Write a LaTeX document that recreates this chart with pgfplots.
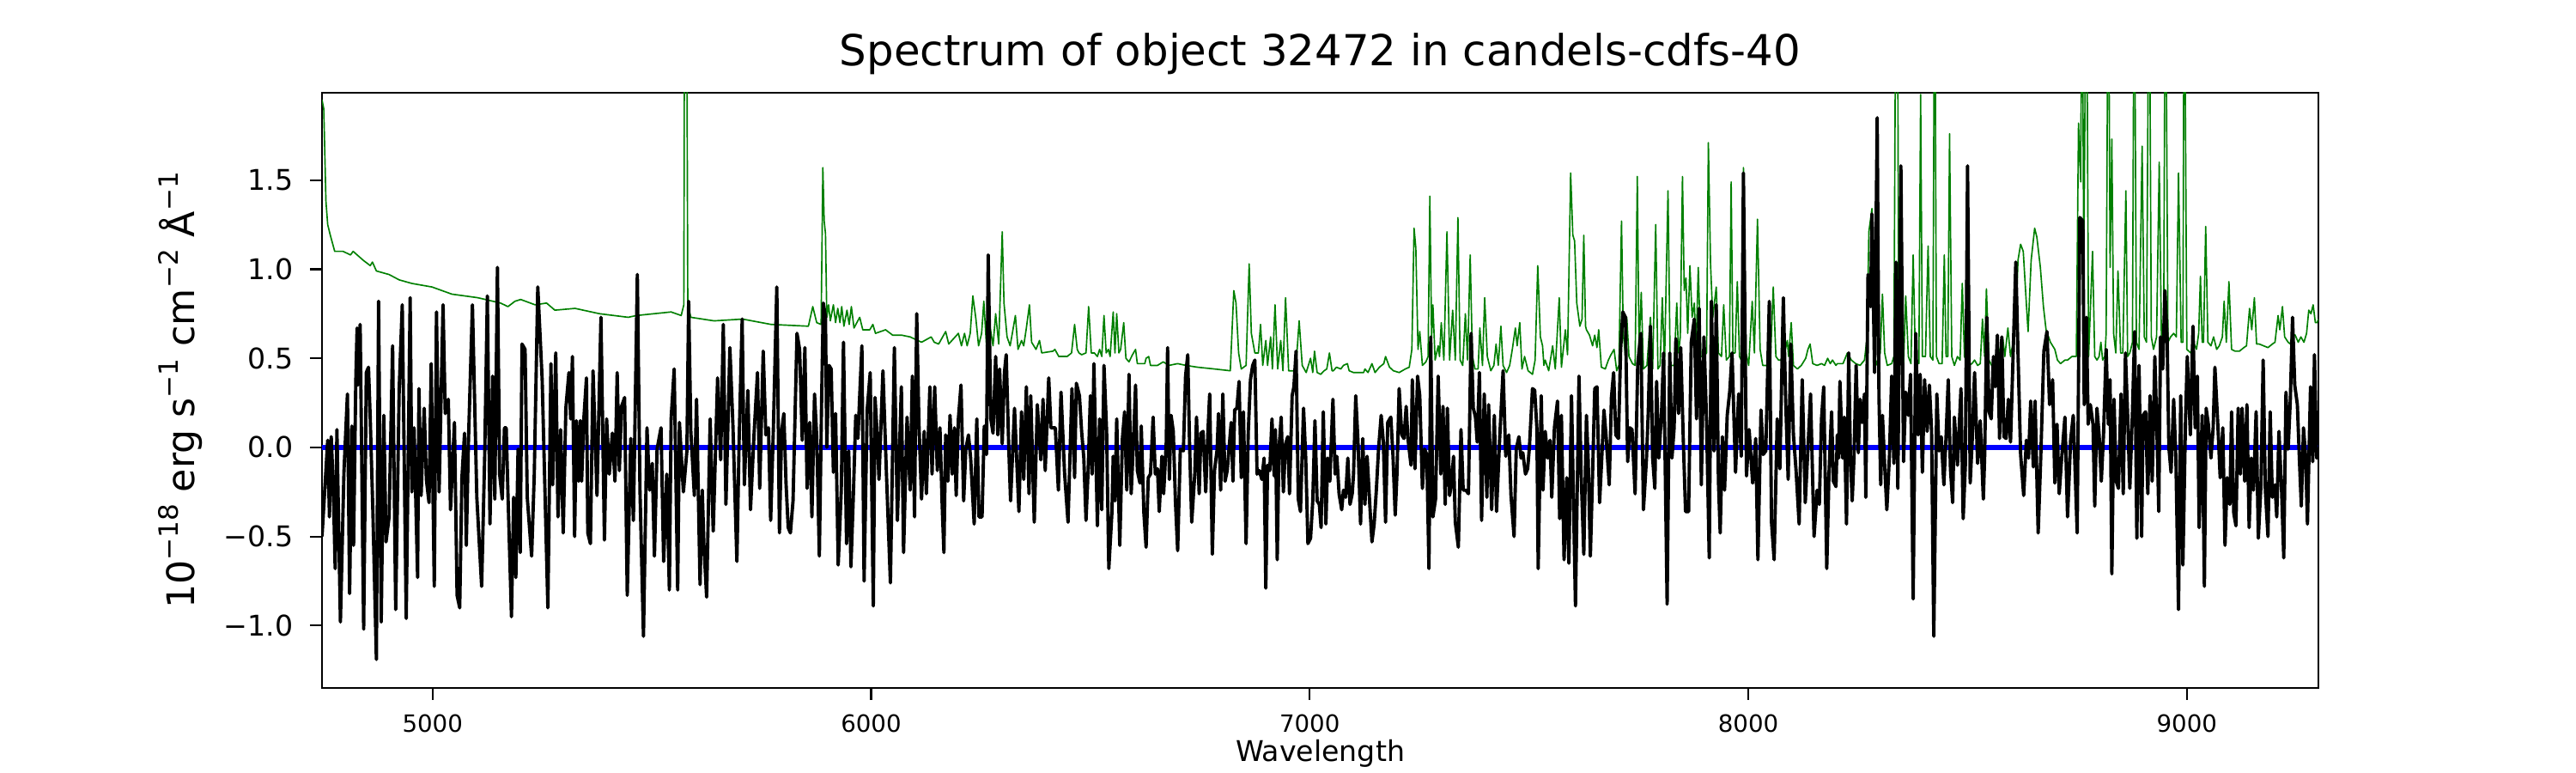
\documentclass[border=0pt]{standalone}
\usepackage{fontspec}
\setmainfont{DejaVu Sans}
\usepackage{pgfplots}
\pgfplotsset{compat=1.18}
\newcommand{\sups}[1]{\raisebox{0.42em}{\fontsize{11.2}{12}\selectfont #1}}
\begin{document}
\begin{tikzpicture}
\path[use as bounding box] (0,0) rectangle (15in,4.5in);
\begin{axis}[
  at={(1.875in,0.495in)}, anchor=south west,
  scale only axis, width=11.625in, height=3.465in,
  xmin=4748, xmax=9300, ymin=-1.35, ymax=1.99,
  axis line style={line width=0.8pt},
  tick align=outside, tick style={line width=0.8pt, black}, major tick length=5pt,
  xtick pos=left, ytick pos=left,
  xtick={5000,6000,7000,8000,9000}, xticklabels={5000,6000,7000,8000,9000},
  ytick={-1,-0.5,0,0.5,1,1.5}, yticklabels={−1.0,−0.5,0.0,0.5,1.0,1.5},
  /pgf/number format/assume math mode=true,
  xticklabel style={font=\fontsize{10}{12}\selectfont, anchor=base, inner sep=0pt, yshift=-13.5pt},
  yticklabel style={font=\fontsize{12}{14}\selectfont, anchor=east, inner sep=0pt, xshift=-6.9pt},
  title={Spectrum of object 32472 in candels-cdfs-40},
  title style={font=\fontsize{18}{20}\selectfont, at={(axis description cs:0.5,1.0217)}, anchor=base, inner sep=0pt},
  xlabel={Wavelength},
  xlabel style={font=\fontsize{12}{14}\selectfont, at={(axis description cs:0.5,-0.124)}, anchor=base, inner sep=0pt},
  ylabel={10\sups{−18} erg s\sups{−1} cm\sups{−2} Å\sups{−1}},
  ylabel style={font=\fontsize{16}{18}\selectfont, at={(axis description cs:-0.0639,0.5)}, anchor=base, inner sep=0pt},
  clip=true,
]
\addplot[color={rgb,255:red,0;green,128;blue,0}, line width=0.6pt, line join=round] coordinates {
(4748,1.95) (4752,1.90) (4757,1.38) (4761,1.25) (4767,1.19) (4777,1.10) (4796,1.10) (4813,1.08) (4819,1.10) (4842,1.05) (4858,1.02) (4863,1.04) (4872,0.99) (4901,0.97) (4924,0.94) (4953,0.92) (4999,0.90) (5044,0.86) (5103,0.84) (5155,0.81) (5172,0.79) (5188,0.82) (5201,0.83) (5234,0.80) (5260,0.81) (5279,0.77) (5325,0.78) (5381,0.75) (5446,0.73) (5465,0.74) (5544,0.76) (5567,0.74) (5573,0.80) (5575,3.0) (5579,3.0) (5582,0.80) (5589,0.73) (5642,0.71) (5707,0.72) (5772,0.69) (5857,0.68) (5867,0.79) (5876,0.70) (5886,0.69) (5890,1.57) (5893,1.27) (5896,1.20) (5899,0.73)
(5903,0.80) (5907,0.71) (5914,0.80) (5919,0.70) (5924,0.78) (5929,0.70) (5933,0.79) (5938,0.68) (5945,0.77) (5950,0.69) (5955,0.79) (5961,0.67) (5974,0.73) (5981,0.66) (5997,0.66) (6004,0.69) (6010,0.64) (6033,0.66) (6049,0.63) (6069,0.63) (6089,0.62) (6115,0.59) (6137,0.62) (6144,0.59) (6154,0.58) (6170,0.65) (6177,0.58) (6199,0.64) (6206,0.57) (6213,0.64) (6219,0.57) (6226,0.64) (6232,0.85) (6239,0.72) (6245,0.57) (6252,0.64) (6257,0.82) (6263,0.57) (6271,0.68) (6278,0.57) (6284,0.75) (6291,0.58) (6299,1.21) (6303,0.81) (6310,0.62) (6317,0.57) (6322,0.64) (6329,0.74) (6335,0.55) (6343,0.60) (6348,0.57) (6354,0.67) (6361,0.80) (6366,0.59) (6376,0.55) (6384,0.60) (6389,0.53) (6415,0.54) (6419,0.55) (6428,0.51) (6447,0.51) (6457,0.53) (6464,0.69) (6470,0.55)
(6474,0.53) (6480,0.52) (6490,0.53) (6496,0.79) (6502,0.53) (6509,0.53) (6516,0.51) (6521,0.55) (6526,0.51) (6531,0.74) (6536,0.53) (6541,0.55) (6545,0.51) (6552,0.76) (6556,0.53) (6560,0.75) (6565,0.53) (6569,0.55) (6576,0.70) (6581,0.50) (6588,0.48) (6596,0.52) (6603,0.55) (6607,0.47) (6624,0.47) (6627,0.50) (6633,0.51) (6637,0.46) (6653,0.46) (6666,0.48) (6679,0.46) (6699,0.47) (6718,0.46) (6744,0.45) (6783,0.44) (6819,0.43) (6827,0.88) (6832,0.81) (6838,0.53) (6844,0.44) (6855,0.46) (6862,1.03) (6867,0.64) (6875,0.53) (6883,0.53) (6888,0.69) (6893,0.46) (6900,0.60) (6904,0.46) (6911,0.62) (6915,0.44) (6921,0.80) (6927,0.44) (6934,0.60) (6939,0.43) (6945,0.84) (6952,0.43) (6968,0.43) (6976,0.71) (6983,0.46) (6992,0.42) (7002,0.50) (7007,0.42) (7011,0.54) (7017,0.42) (7025,0.41) (7033,0.43) (7039,0.44) (7045,0.53) (7051,0.43)
(7054,0.43) (7061,0.45) (7071,0.44) (7077,0.46) (7086,0.47) (7090,0.43) (7100,0.42) (7123,0.42) (7126,0.44) (7133,0.42) (7142,0.47) (7149,0.42) (7159,0.45) (7169,0.47) (7173,0.51) (7182,0.45) (7191,0.43) (7204,0.42) (7218,0.44) (7227,0.45) (7233,0.55) (7238,1.23) (7242,1.12) (7247,0.55) (7251,0.65) (7257,0.46) (7265,0.48) (7270,0.51) (7274,1.41) (7278,0.62) (7281,0.80) (7286,0.49) (7293,0.57) (7296,0.51) (7300,0.70) (7306,0.49) (7313,1.21) (7319,0.49) (7326,0.77) (7332,0.49) (7338,1.29) (7343,0.49) (7349,0.46) (7355,0.75) (7360,0.49) (7366,1.08) (7371,0.51) (7377,0.44) (7384,0.44) (7388,0.67) (7394,0.46) (7399,0.84) (7405,0.51) (7413,0.43) (7420,0.46) (7425,0.58) (7430,0.46) (7436,0.68) (7441,0.46) (7449,0.42) (7456,0.46) (7462,0.55) (7469,0.67) (7473,0.57) (7479,0.70) (7484,0.44) (7490,0.51) (7498,0.43) (7508,0.41) (7514,0.49) (7520,1.02) (7526,0.62) (7531,0.57) (7534,0.46) (7537,0.49) (7545,0.43) (7554,0.57) (7560,0.44) (7569,0.84) (7574,0.45) (7583,0.66) (7588,0.52) (7595,1.54) (7600,1.19) (7604,1.16) (7609,0.81) (7616,0.68) (7621,0.72) (7625,1.19) (7629,0.68)
(7631,0.66) (7638,0.63) (7645,0.57) (7650,0.63) (7655,0.56) (7659,0.66) (7665,0.45) (7674,0.44) (7681,0.49) (7687,0.52) (7694,0.55) (7700,0.43) (7705,0.46) (7711,1.27) (7715,0.64) (7720,0.51) (7723,0.73) (7728,0.51) (7736,0.47) (7742,0.46) (7747,1.52) (7751,0.55) (7756,0.87) (7761,0.44) (7769,0.46) (7777,0.73) (7782,0.44) (7789,1.25) (7794,0.44) (7799,0.46) (7804,0.84) (7809,0.46) (7817,1.44) (7822,0.46) (7831,0.46) (7837,0.81) (7841,0.53) (7845,0.62) (7850,1.52) (7854,0.88) (7858,0.95) (7862,0.64) (7867,1.02) (7872,0.73) (7877,0.81) (7881,0.55) (7886,1.01) (7892,0.51) (7899,0.51) (7905,0.53) (7909,1.71) (7914,1.03) (7919,0.73) (7927,0.90) (7932,0.53) (7939,0.51) (7944,0.80) (7950,0.49) (7957,0.51) (7961,1.49) (7965,0.53) (7970,0.53) (7975,0.93) (7980,0.51) (7984,0.49) (7989,1.57) (7995,0.53) (8001,0.46) (8009,0.82) (8014,0.53) (8021,1.28) (8027,0.55) (8033,0.46) (8040,0.46) (8050,0.45) (8057,0.90) (8063,0.51) (8069,0.49) (8076,0.49) (8081,0.51) (8089,0.60) (8092,0.51) (8098,0.70) (8103,0.46) (8112,0.44) (8121,0.46) (8131,0.50) (8136,0.55) (8141,0.58) (8147,0.47) (8157,0.46) (8167,0.47) (8174,0.46) (8181,0.50) (8187,0.47) (8192,0.49) (8200,0.46)
(8203,0.47) (8216,0.47) (8226,0.53) (8235,0.49) (8245,0.47) (8255,0.46) (8265,0.49) (8271,0.62) (8275,1.21) (8282,1.34) (8286,0.73) (8291,0.46) (8301,0.53) (8306,0.86) (8311,0.53) (8317,0.46) (8327,0.47) (8332,0.51) (8337,3.0) (8340,3.0) (8343,0.51) (8350,0.49) (8354,0.46) (8359,0.85) (8365,0.51) (8371,0.47) (8376,1.08) (8381,0.51) (8389,0.47) (8393,1.98) (8397,0.51) (8404,0.51) (8410,1.13) (8415,0.51) (8421,0.49) (8425,3.0) (8429,0.51) (8435,0.47) (8442,0.47) (8447,1.08) (8451,0.51) (8455,0.51) (8459,1.76) (8464,0.51) (8470,0.46) (8477,0.51) (8483,0.49) (8488,0.92) (8493,0.51) (8503,0.46) (8510,0.47) (8516,0.49) (8523,0.46) (8529,0.47) (8534,0.72) (8539,0.51) (8543,0.89) (8549,0.49) (8555,0.46) (8562,0.46) (8568,0.59) (8575,0.51) (8580,0.62) (8585,0.51) (8592,0.67) (8598,0.51) (8604,0.59) (8611,0.77) (8615,1.05) (8621,1.14) (8627,1.10) (8634,0.81) (8638,0.65) (8645,1.05) (8653,1.23) (8658,1.18) (8666,1.01) (8673,0.79) (8679,0.66) (8689,0.59) (8699,0.55) (8705,0.49) (8712,0.47) (8722,0.49) (8728,0.49) (8738,0.51) (8748,0.51) (8753,1.82) (8758,1.49) (8761,3.0) (8765,1.03) (8771,3.0) (8776,0.51) (8785,1.10) (8790,0.51)
(8795,0.49) (8800,0.51) (8804,0.59) (8808,0.49) (8813,0.51) (8816,0.64) (8821,3.0) (8825,1.01) (8829,1.73) (8833,0.64) (8838,0.53) (8843,0.99) (8849,0.53) (8854,0.53) (8861,1.44) (8865,0.51) (8870,0.53) (8876,0.59) (8880,3.0) (8885,0.59) (8891,0.55) (8898,1.69) (8903,0.62) (8908,0.59) (8914,3.0) (8919,0.62) (8924,0.55) (8931,0.62) (8937,1.60) (8942,0.62) (8947,0.55) (8951,3.0) (8957,0.59) (8963,0.62) (8970,0.64) (8976,0.62) (8981,1.54) (8987,0.59) (8991,0.59) (8994,3.0) (9000,0.55) (9009,0.53) (9015,0.59) (9022,0.55) (9027,0.64) (9031,0.96) (9035,0.59) (9038,0.59) (9043,1.24) (9048,0.59) (9055,0.57) (9061,0.62) (9068,0.55) (9074,0.57) (9081,0.62) (9085,0.82) (9090,0.59) (9096,0.93) (9102,0.55) (9110,0.54) (9120,0.54) (9130,0.56) (9136,0.57) (9143,0.78) (9148,0.66) (9154,0.84) (9159,0.58) (9165,0.58) (9175,0.57) (9185,0.56) (9195,0.58) (9201,0.59) (9208,0.74) (9212,0.66) (9218,0.79) (9223,0.62) (9231,0.59) (9236,0.58) (9240,0.64) (9247,0.63) (9254,0.59) (9260,0.62) (9267,0.59) (9273,0.64) (9278,0.77) (9283,0.75) (9288,0.80) (9293,0.70) (9297,0.70) (9300,0.72)
};
\addplot[color=blue, line width=2pt] coordinates {(4748,0) (9300,0)};
\addplot[color=black, line width=1.4pt, line join=round] coordinates {
(4748,-0.50) (4761,0.04) (4765,-0.39) (4769,0.06) (4774,-0.24) (4778,-0.68) (4782,0.10) (4790,-0.98) (4798,-0.14) (4806,0.30) (4811,-0.82) (4816,0.12) (4820,-0.55) (4825,0.37) (4828,0.67) (4830,0.35) (4835,0.69) (4843,-1.02) (4849,0.42) (4854,0.45) (4858,0.16) (4864,-0.36) (4872,-1.19) (4877,0.82) (4883,-0.98) (4889,0.18) (4894,-0.53) (4901,-0.39) (4909,0.57) (4916,-0.91) (4924,0.33) (4931,0.80) (4940,-0.96) (4949,0.84) (4953,-0.25) (4958,0.11) (4966,-0.73) (4969,0.33) (4974,-0.27) (4981,0.22) (4986,-0.18) (4992,-0.31) (4997,0.47) (5004,-0.78) (5009,0.76) (5015,-0.25) (5024,0.80) (5029,0.19) (5036,0.27) (5041,-0.35) (5050,0.14) (5056,-0.83) (5062,-0.90) (5067,-0.17) (5073,0.08) (5077,-0.55) (5082,0.04) (5091,0.80) (5101,-0.28) (5112,-0.78) (5119,-0.04) (5125,0.85) (5131,-0.43) (5137,0.40) (5142,-0.29) (5148,1.01) (5153,-0.15) (5159,-0.29) (5164,0.11) (5168,0.11) (5172,-0.26) (5180,-0.95) (5185,-0.28) (5190,-0.73) (5195,-0.01) (5200,-0.59) (5204,0.58) (5211,0.55) (5216,-0.28) (5226,-0.61) (5232,-0.15) (5240,0.90) (5250,0.38) (5263,-0.90) (5270,0.47) (5274,-0.21) (5281,0.53) (5286,-0.39) (5292,0.10) (5298,-0.48) (5304,0.22) (5311,0.42) (5315,0.16) (5319,0.51)
(5324,-0.50) (5328,0.15) (5333,-0.19) (5337,0.15) (5340,-0.19) (5345,0.16) (5351,0.39) (5354,-0.48) (5360,-0.54) (5366,0.43) (5375,-0.27) (5384,0.73) (5392,-0.52) (5397,0.16) (5403,-0.15) (5410,0.08) (5416,-0.19) (5421,0.42) (5426,-0.13) (5431,0.23) (5438,0.28) (5444,-0.83) (5452,0.05) (5458,-0.41) (5467,0.97) (5473,-0.24) (5481,-1.06) (5489,0.11) (5495,-0.24) (5501,-0.09) (5506,-0.61) (5512,-0.01) (5521,0.11) (5527,-0.64) (5534,-0.15) (5540,-0.80) (5544,0.16) (5551,0.44) (5559,-0.80) (5563,0.14) (5572,-0.25) (5580,-0.02) (5584,0.82) (5589,0.09) (5597,-0.27) (5602,0.27) (5610,-0.77) (5615,-0.24) (5619,-0.56) (5625,-0.84) (5633,0.16) (5640,-0.47) (5650,0.39) (5657,-0.07) (5663,0.69) (5669,-0.32) (5678,0.56) (5685,0.12) (5694,-0.64) (5699,0.03) (5706,0.72) (5711,-0.21) (5719,0.32) (5725,-0.35) (5733,0.07) (5741,0.42) (5746,-0.23) (5754,0.54) (5760,0.07) (5766,0.11) (5771,-0.41) (5777,0.09) (5785,0.90) (5791,-0.48) (5796,0.09) (5801,0.19) (5806,-0.20) (5811,-0.45) (5816,-0.48) (5822,-0.30) (5831,0.64) (5837,0.55) (5843,0.04) (5849,0.56) (5854,-0.23) (5860,0.14) (5865,-0.39) (5871,0.30) (5876,0.06) (5882,-0.61) (5887,0.24) (5891,0.81)
(5896,0.73) (5899,0.00) (5904,0.46) (5909,0.44) (5914,-0.14) (5919,0.19) (5925,-0.66) (5932,-0.24) (5937,0.59) (5944,-0.54) (5949,-0.02) (5954,-0.67) (5959,-0.31) (5965,0.18) (5970,0.05) (5974,0.29) (5979,0.57) (5984,-0.75) (5991,0.21) (5998,0.42) (6005,-0.89) (6009,0.28) (6013,0.11) (6018,-0.18) (6027,0.43) (6035,-0.15) (6044,-0.76) (6053,0.56) (6060,-0.41) (6069,0.34) (6074,-0.59) (6082,0.17) (6089,-0.24) (6094,0.40) (6099,-0.39) (6104,0.75) (6109,0.14) (6115,-0.29) (6121,0.09) (6126,-0.26) (6134,0.34) (6139,-0.15) (6145,0.34) (6151,-0.13) (6157,0.11) (6162,-0.32) (6166,-0.59) (6170,0.07) (6175,-0.19) (6180,0.18) (6185,-0.15) (6190,0.11) (6194,-0.27) (6199,0.16) (6205,0.35) (6211,-0.30) (6216,-0.01) (6222,0.07) (6227,-0.06) (6235,-0.43) (6241,0.16) (6246,-0.39) (6253,-0.39) (6258,0.12) (6263,-0.04) (6267,1.08) (6273,0.16) (6278,0.08) (6284,0.51) (6289,0.07) (6293,0.44) (6299,0.02) (6304,0.42) (6308,0.52) (6314,-0.01) (6318,-0.30) (6327,0.22) (6337,-0.36) (6343,0.20) (6348,-0.18) (6354,0.34) (6360,-0.26) (6364,0.29) (6372,-0.42) (6379,0.24) (6387,-0.07) (6392,0.27) (6397,-0.13) (6405,0.39) (6410,0.11) (6420,0.11) (6427,-0.24) (6433,0.31) (6441,-0.14) (6449,-0.42) (6458,0.33) (6464,-0.17) (6468,0.36)
(6475,0.29) (6480,0.09) (6485,-0.06) (6490,-0.41) (6495,-0.12) (6500,0.29) (6504,-0.15) (6508,0.47) (6516,-0.44) (6521,0.16) (6526,-0.35) (6531,0.46) (6537,0.09) (6542,-0.68) (6549,-0.37) (6552,-0.05) (6556,-0.30) (6560,0.16) (6567,-0.55) (6573,0.05) (6578,0.20) (6583,-0.24) (6588,0.41) (6593,-0.26) (6598,0.02) (6603,0.35) (6607,-0.13) (6613,-0.20) (6616,0.12) (6622,-0.37) (6627,-0.56) (6632,-0.17) (6637,-0.15) (6643,0.17) (6648,-0.15) (6653,-0.12) (6657,-0.36) (6663,-0.05) (6667,-0.26) (6673,0.03) (6676,0.56) (6680,-0.18) (6684,0.18) (6689,0.09) (6694,-0.31) (6699,-0.58) (6705,-0.01) (6712,-0.02) (6717,0.40) (6722,0.52) (6726,0.03) (6731,-0.42) (6738,-0.15) (6742,0.17) (6748,-0.26) (6752,0.08) (6757,0.09) (6763,-0.25) (6768,0.09) (6772,0.30) (6778,-0.60) (6783,-0.13) (6789,-0.01) (6792,0.19) (6797,-0.24) (6802,0.30) (6807,-0.19) (6812,-0.13) (6816,-0.01) (6821,0.14) (6825,-0.19) (6829,0.21) (6834,0.22) (6839,0.37) (6844,-0.17) (6849,0.20) (6855,-0.54) (6860,0.09) (6865,0.38) (6870,0.46) (6875,0.49) (6880,-0.15) (6885,-0.13) (6891,-0.18) (6896,-0.06) (6900,-0.79) (6904,-0.10) (6909,-0.13) (6914,0.16) (6919,-0.16) (6922,0.10) (6926,-0.63) (6930,-0.01) (6935,0.17) (6940,-0.25) (6945,0.02) (6950,0.06) (6954,-0.26) (6960,0.29) (6964,0.34) (6969,0.54) (6974,-0.29) (6979,-0.36) (6986,0.22) (6991,-0.06) (6996,-0.54) (7002,-0.51) (7007,-0.30) (7012,0.15) (7017,-0.30) (7022,-0.32) (7026,-0.45) (7031,0.20) (7037,-0.43) (7041,-0.06) (7046,-0.19)
(7053,0.27) (7058,-0.15) (7062,-0.05) (7067,-0.26) (7073,-0.35) (7077,-0.24) (7082,-0.28) (7087,-0.06) (7092,-0.32) (7097,-0.26) (7100,-0.15) (7105,0.29) (7110,0.04) (7116,-0.43) (7121,0.05) (7126,-0.32) (7131,-0.05) (7137,-0.32) (7142,-0.53) (7147,-0.43) (7152,-0.24) (7157,-0.01) (7163,0.18) (7168,0.03) (7173,-0.42) (7178,0.14) (7185,0.17) (7190,-0.05) (7195,-0.38) (7199,-0.15) (7204,0.33) (7210,0.07) (7215,0.05) (7220,0.23) (7224,0.05) (7231,-0.10) (7234,0.38) (7240,-0.12) (7246,0.40) (7251,0.29) (7257,-0.23) (7262,-0.01) (7267,-0.04) (7272,-0.68) (7276,0.62) (7281,-0.39) (7287,-0.29) (7293,0.40) (7299,-0.15) (7304,0.23) (7309,-0.32) (7314,0.22) (7319,-0.27) (7323,-0.21) (7328,-0.05) (7332,-0.42) (7339,-0.56) (7345,0.10) (7350,-0.24) (7356,-0.24) (7362,-0.26) (7368,0.64) (7373,0.22) (7378,0.17) (7382,0.03) (7387,0.42) (7392,-0.41) (7398,0.30) (7404,-0.28) (7408,0.24) (7415,-0.35) (7421,0.18) (7426,-0.36) (7433,0.04) (7441,0.43) (7447,-0.05) (7454,0.07) (7459,-0.27) (7466,-0.50) (7471,-0.01) (7477,0.06) (7482,-0.06) (7486,-0.03) (7492,-0.15) (7497,-0.12) (7501,0.00) (7508,0.33) (7513,0.32) (7518,0.11) (7521,-0.68) (7528,0.29) (7532,-0.24) (7537,0.09) (7543,-0.06) (7548,0.04) (7552,-0.28) (7558,0.11) (7565,0.26) (7570,-0.40) (7574,0.18) (7580,-0.63) (7586,-0.17) (7591,-0.65) (7597,0.29) (7606,-0.89) (7614,0.40) (7619,-0.15) (7625,-0.60)
(7631,0.18) (7635,-0.07) (7640,-0.61) (7645,-0.15) (7650,0.33) (7655,0.34) (7661,-0.31) (7666,-0.06) (7671,0.21) (7676,0.06) (7683,-0.21) (7688,0.28) (7693,0.42) (7698,0.07) (7704,0.05) (7709,0.55) (7714,0.76) (7720,0.73) (7725,-0.08) (7730,0.11) (7735,0.10) (7742,-0.26) (7748,0.47) (7755,0.64) (7761,-0.35) (7768,-0.06) (7772,0.20) (7777,0.68) (7782,-0.06) (7787,-0.23) (7791,0.37) (7796,-0.06) (7802,0.18) (7807,0.53) (7815,-0.88) (7821,0.53) (7826,-0.06) (7831,0.11) (7835,0.61) (7841,0.19) (7846,0.56) (7852,0.03) (7857,-0.36) (7864,-0.36) (7870,0.59) (7877,0.72) (7882,0.16) (7888,0.78) (7893,-0.21) (7899,0.62) (7905,0.14) (7911,-0.62) (7916,0.82) (7922,-0.02) (7927,0.80) (7932,-0.19) (7936,-0.48) (7941,0.06) (7946,-0.24) (7952,0.18) (7958,0.32) (7963,0.53) (7971,-0.14) (7978,0.30) (7984,-0.05) (7989,1.54) (7996,-0.16) (8002,0.10) (8010,-0.20) (8017,0.05) (8022,-0.63) (8029,0.21) (8034,-0.04) (8040,-0.02) (8048,0.82) (8053,-0.42) (8059,-0.63) (8066,0.16) (8072,-0.12) (8080,0.84) (8085,0.29) (8091,-0.18) (8097,0.58) (8103,0.07) (8109,-0.13) (8116,-0.43) (8123,0.38) (8130,-0.31) (8136,-0.01) (8142,0.30) (8150,-0.50) (8157,-0.24) (8162,-0.32) (8167,0.16) (8172,0.34) (8179,-0.68) (8184,-0.15) (8190,0.20) (8194,-0.19) (8200,-0.22)
(8203,0.07) (8206,-0.06) (8209,0.37) (8215,-0.06) (8219,0.17) (8224,-0.43) (8229,0.53) (8233,-0.06) (8237,-0.30) (8241,-0.06) (8246,0.46) (8251,-0.03) (8255,0.27) (8260,0.14) (8265,0.30) (8268,-0.28) (8273,0.97) (8279,0.79) (8282,1.31) (8288,0.42) (8294,1.85) (8298,0.29) (8302,-0.21) (8306,0.18) (8311,-0.10) (8316,-0.35) (8322,-0.04) (8327,0.40) (8332,-0.09) (8337,1.04) (8341,-0.23) (8348,1.58) (8354,-0.08) (8359,0.31) (8365,0.18) (8370,0.41) (8376,-0.85) (8382,0.64) (8387,0.07) (8392,0.41) (8397,-0.14) (8402,0.38) (8408,0.09) (8413,0.35) (8418,0.09) (8423,-1.06) (8430,0.30) (8435,-0.02) (8440,0.06) (8446,-0.21) (8451,0.06) (8456,0.38) (8461,-0.12) (8466,-0.31) (8470,0.17) (8477,-0.10) (8485,0.33) (8490,-0.40) (8495,-0.10) (8500,1.58) (8506,-0.20) (8511,0.06) (8516,0.42) (8523,-0.09) (8529,0.15) (8536,-0.29) (8539,-0.05) (8544,0.73) (8549,0.20) (8554,0.16) (8559,0.51) (8563,0.34) (8568,0.63) (8573,0.05) (8578,0.62) (8583,0.06) (8588,0.05) (8593,0.27) (8598,0.03) (8604,0.53) (8610,1.04) (8615,0.53) (8621,-0.04) (8628,-0.27) (8634,0.04) (8639,-0.06) (8644,0.26) (8650,-0.11) (8654,0.26) (8661,-0.48) (8667,-0.05) (8674,0.54) (8681,0.65) (8687,0.24) (8694,0.38) (8699,-0.20) (8704,0.13) (8709,-0.26) (8714,-0.08) (8722,0.17) (8728,-0.39) (8735,0.04) (8741,0.18) (8750,-0.48) (8756,1.29) (8763,1.27)
(8766,0.24) (8771,0.73) (8775,0.13) (8780,0.24) (8786,0.13) (8790,-0.33) (8795,0.22) (8800,0.07) (8805,-0.19) (8810,0.07) (8816,0.55) (8821,0.13) (8825,0.38) (8829,-0.71) (8834,0.27) (8839,-0.19) (8844,-0.23) (8850,0.30) (8855,-0.26) (8860,0.53) (8865,0.18) (8870,-0.23) (8876,0.20) (8881,0.65) (8886,-0.51) (8891,0.46) (8897,-0.50) (8900,0.18) (8906,0.20) (8911,-0.26) (8916,0.29) (8921,-0.19) (8927,0.51) (8932,0.07) (8936,-0.36) (8940,0.62) (8945,0.44) (8950,0.88) (8955,0.62) (8959,0.00) (8964,-0.14) (8970,0.27) (8975,-0.06) (8981,-0.91) (8986,0.29) (8991,-0.66) (8997,0.16) (9001,0.51) (9008,0.07) (9014,0.68) (9019,0.11) (9024,0.40) (9028,-0.45) (9035,0.18) (9040,-0.78) (9044,0.22) (9049,0.13) (9055,-0.06) (9060,0.11) (9064,0.45) (9071,0.11) (9076,-0.17) (9082,0.11) (9087,-0.55) (9092,-0.17) (9098,-0.32) (9102,0.20) (9107,-0.37) (9112,-0.44) (9117,0.22) (9122,-0.15) (9126,0.22) (9132,-0.19) (9137,0.24) (9142,-0.45) (9147,-0.06) (9152,-0.24) (9158,0.20) (9163,-0.51) (9169,-0.21) (9174,0.49) (9179,-0.24) (9185,-0.50) (9190,0.20) (9195,-0.28) (9201,-0.21) (9205,-0.39) (9210,0.09) (9216,-0.24) (9221,-0.62) (9226,0.31) (9231,-0.01) (9236,0.27) (9241,0.73) (9246,0.35) (9252,0.24) (9257,-0.09) (9261,-0.33) (9266,0.11) (9271,-0.06) (9275,-0.43) (9282,0.34) (9287,-0.08) (9291,0.52) (9296,-0.06) (9300,0.00)
};
\end{axis}
\end{tikzpicture}
\end{document}
